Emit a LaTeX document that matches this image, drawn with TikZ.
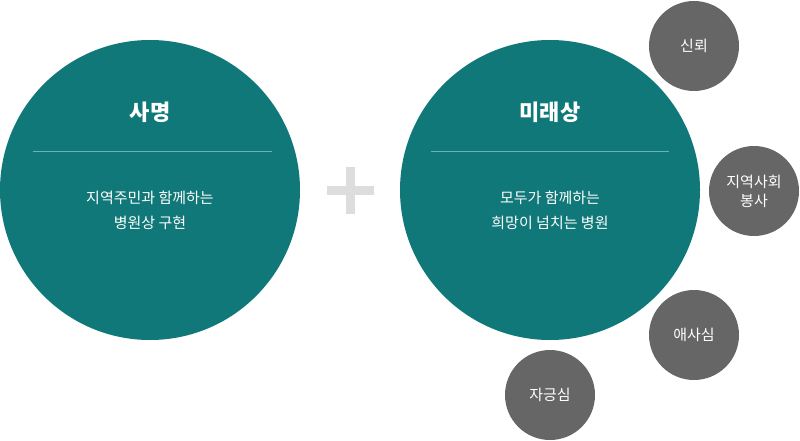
\documentclass[tikz,border=0pt]{standalone}
\usepackage{fontspec}
\setmainfont{Noto Sans CJK KR}
\definecolor{tealbg}{HTML}{107878}
\definecolor{tealline}{HTML}{6AB3B3}
\definecolor{grayball}{HTML}{666666}
\definecolor{plusgray}{HTML}{DDDDDD}
\begin{document}
\begin{tikzpicture}[x=1pt, y=-1pt,
    bigball/.style={circle, fill=tealbg, minimum size=300pt, inner sep=0pt},
    smallball/.style={circle, fill=grayball, minimum size=90pt, inner sep=0pt,
        text=white, align=center, font=\fontsize{15}{19}\selectfont},
    title/.style={text=white, font=\fontsize{22}{26}\selectfont\bfseries},
    body/.style={text=white, align=center, font=\fontsize{15}{25}\selectfont}]
\useasboundingbox (0,0) rectangle (800,441);
% left circle
\node[bigball] (mission) at (150,190) {};
\node[title] (missiontitle) at (150,112) {사명};
\draw[tealline, line width=.8pt] (33,151)--(272,151);
\node[body] (missiontext) at (150,210.5) {지역주민과 함께하는\\병원상 구현};
% plus sign
\fill[plusgray] (327,186) rectangle (374,195);
\fill[plusgray] (346,167) rectangle (355,214);
% right circle
\node[bigball] (vision) at (550,190) {};
\node[title] (visiontitle) at (550,112) {미래상};
\draw[tealline, line width=.8pt] (431,151)--(669,151);
\node[body] (visiontext) at (550,210.5) {모두가 함께하는\\희망이 넘치는 병원};
% values
\node[smallball] (trust) at (694,46) {신뢰};
\node[smallball] (service) at (754,191) {지역사회\\봉사};
\node[smallball] (loyalty) at (694,335) {애사심};
\node[smallball] (pride) at (550,395) {자긍심};
\end{tikzpicture}
\end{document}
